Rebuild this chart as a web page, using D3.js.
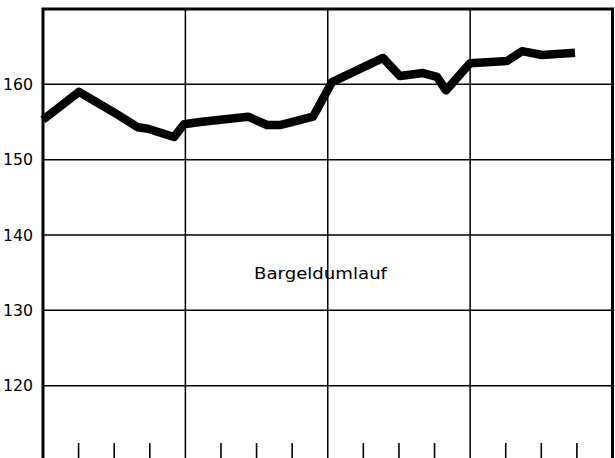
<!DOCTYPE html>
<html>
<head>
<meta charset="utf-8">
<script src="https://cdn.jsdelivr.net/npm/d3@7"></script>
<style>
  html, body { margin: 0; padding: 0; background: #fff; }
  svg { display: block; }
  text { font-family: "DejaVu Sans", "Liberation Sans", Arial, sans-serif; fill: #000; }
</style>
</head>
<body>
<svg id="chart" width="615" height="458"></svg>
<script>
// Time positions in months from the start of the chart (4 years, 12 months each)
const months = [0, 3.03, 6.15, 8.0, 8.85, 11.04, 11.88, 13.23, 17.28, 18.88, 19.97, 22.76, 24.36,
                28.66, 30.09, 32.03, 33.21, 33.97, 35.99, 39.11, 40.37, 42.06, 44.84];
const values = [155.3, 159.0, 156.1, 154.3, 154.1, 153.0, 154.7, 155.0, 155.7, 154.6, 154.6, 155.7, 160.3,
                163.5, 161.1, 161.5, 161.0, 159.2, 162.8, 163.1, 164.4, 163.9, 164.2];
const yTicks = [120, 130, 140, 150, 160];
const yearBounds = [12, 24, 36];
const minorTicks = [3, 6, 9, 15, 18, 21, 27, 30, 33, 39, 42, 45];
const seriesLabel = "Bargeldumlauf";

const svg = d3.select("#chart");
const x = d3.scaleLinear().domain([0, 48]).range([43, 612.5]);
const y = d3.scaleLinear().domain([110, 170]).range([461, 9]);

// horizontal gridlines
svg.append("g").selectAll("line").data(yTicks).join("line")
  .attr("x1", x(0)).attr("x2", x(48))
  .attr("y1", d => y(d)).attr("y2", d => y(d))
  .attr("stroke", "#000").attr("stroke-width", 1.5);

// vertical year gridlines
svg.append("g").selectAll("line").data(yearBounds).join("line")
  .attr("x1", d => x(d)).attr("x2", d => x(d))
  .attr("y1", y(170)).attr("y2", 458)
  .attr("stroke", "#000").attr("stroke-width", 1.5);

// minor ticks at bottom
svg.append("g").selectAll("line").data(minorTicks).join("line")
  .attr("x1", d => x(d)).attr("x2", d => x(d))
  .attr("y1", 443).attr("y2", 458)
  .attr("stroke", "#000").attr("stroke-width", 1.6);

// frame: left, top, right
svg.append("path")
  .attr("d", `M${x(0)},458 L${x(0)},${y(170)} L${x(48)},${y(170)} L${x(48)},458`)
  .attr("fill", "none").attr("stroke", "#000").attr("stroke-width", 3);

// y labels
svg.append("g").selectAll("text").data(yTicks).join("text")
  .attr("x", 33).attr("y", d => y(d) + 5.5)
  .attr("text-anchor", "end")
  .attr("font-size", 15)
  .attr("textLength", 30).attr("lengthAdjust", "spacingAndGlyphs")
  .text(d => d);

// data line
const pts = months.map((m, i) => [m, values[i]]);
svg.append("path")
  .datum(pts)
  .attr("d", d3.line().x(d => x(d[0])).y(d => y(d[1])))
  .attr("fill", "none").attr("stroke", "#000")
  .attr("stroke-width", 8.5).attr("stroke-linejoin", "round").attr("stroke-linecap", "butt");

// series label
svg.append("text")
  .attr("x", 254).attr("y", 279)
  .attr("font-size", 15.5)
  .attr("textLength", 133).attr("lengthAdjust", "spacingAndGlyphs")
  .text(seriesLabel);
</script>
</body>
</html>
